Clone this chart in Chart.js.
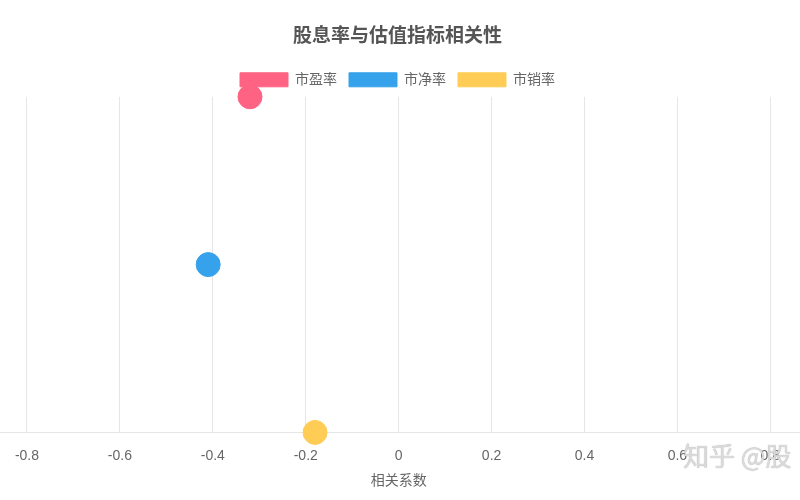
<!DOCTYPE html>
<html>
<head>
<meta charset="utf-8">
<script src="https://cdn.jsdelivr.net/npm/chart.js@4"></script>
<style>
  html, body { margin: 0; padding: 0; background: #fff; overflow: hidden; }
  #wrap { position: relative; width: 800px; height: 500px; overflow: hidden; }
  #box { position: absolute; left: -93px; top: 0; width: 981px; height: 500px; }
  #mark {
    position: absolute; left: 683px; top: 436px;
    font-family: "Noto Sans CJK SC", sans-serif; font-size: 26px;
    color: rgba(225, 225, 225, 0.9); white-space: nowrap;
    text-shadow: 0 0 1px #999;
  }
</style>
</head>
<body>
<div id="wrap">
  <div id="box"><canvas id="chart"></canvas></div>
  <div id="mark">知乎 @股</div>
</div>
<script>
const seriesNames = ['市盈率', '市净率', '市销率'];
const correlations = [-0.32, -0.41, -0.18];
const rowPositions = [2, 1, 0];
const seriesColors = ['rgb(255, 99, 132)', 'rgb(54, 162, 235)', 'rgb(255, 205, 86)'];
const chartTitle = '股息率与估值指标相关性';
const xAxisTitle = '相关系数';

const fontFamily = "Arial, 'Liberation Sans', 'Noto Sans CJK SC', sans-serif";

const datasets = seriesNames.map((name, i) => ({
  label: name,
  data: [{ x: correlations[i], y: rowPositions[i] }],
  backgroundColor: seriesColors[i],
  borderColor: seriesColors[i],
  pointRadius: 12,
  pointHoverRadius: 12,
  clip: false
}));

new Chart(document.getElementById('chart'), {
  type: 'scatter',
  data: { datasets: datasets },
  options: {
    responsive: true,
    maintainAspectRatio: false,
    animation: false,
    layout: { padding: { left: 20, right: 20, top: 15, bottom: 10 } },
    plugins: {
      title: {
        display: true,
        text: chartTitle,
        color: '#555',
        font: { family: fontFamily, size: 19, weight: 'bold' },
        padding: { top: 10, bottom: 13 }
      },
      legend: {
        display: true,
        labels: {
          color: '#666',
          boxWidth: 48,
          boxHeight: 14,
          padding: 12,
          font: { family: fontFamily, size: 14 }
        }
      },
      tooltip: { enabled: false }
    },
    scales: {
      x: {
        type: 'linear',
        min: -1,
        max: 1,
        ticks: {
          stepSize: 0.2,
          color: '#666',
          padding: 15,
          font: { family: fontFamily, size: 14 }
        },
        grid: { color: '#e6e6e6', drawTicks: false },
        border: { color: '#e6e6e6' },
        title: {
          display: true,
          text: xAxisTitle,
          color: '#666',
          font: { family: fontFamily, size: 14 },
          padding: { top: -6, bottom: 0 }
        }
      },
      y: {
        display: false,
        min: 0,
        max: 2
      }
    }
  }
});
</script>
</body>
</html>
